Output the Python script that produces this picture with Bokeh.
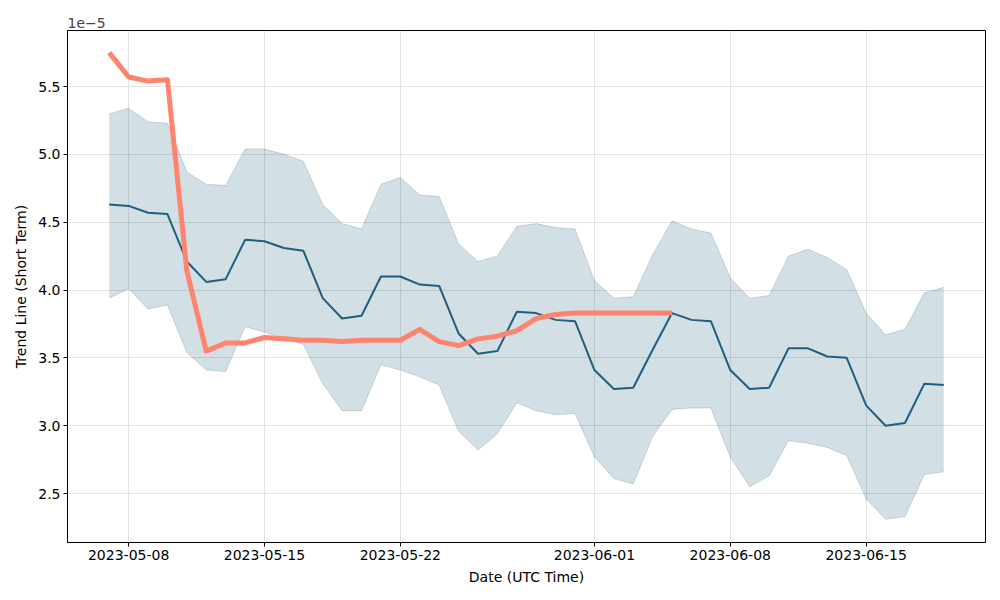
import pandas as pd
from bokeh.plotting import figure
from bokeh.models import FixedTicker, DatetimeTickFormatter, Range1d, NumeralTickFormatter
from bokeh.embed import file_html
from bokeh.resources import INLINE

# values are in units of 1e-5
START_DATE = "2023-05-07"
MEAN = [4.63, 4.62, 4.57, 4.56, 4.21, 4.06, 4.08, 4.37, 4.36, 4.31, 4.29,
        3.94, 3.79, 3.81, 4.10, 4.10, 4.04, 4.03, 3.68, 3.53, 3.55, 3.84,
        3.83, 3.78, 3.77, 3.41, 3.27, 3.28, 3.56, 3.83, 3.78, 3.77, 3.41,
        3.27, 3.28, 3.57, 3.57, 3.51, 3.50, 3.15, 3.00, 3.02, 3.31, 3.30]
UPPER = [5.30, 5.34, 5.24, 5.23, 4.87, 4.78, 4.77, 5.04, 5.04, 5.00, 4.95,
         4.63, 4.49, 4.45, 4.78, 4.83, 4.70, 4.69, 4.34, 4.21, 4.25, 4.47,
         4.49, 4.46, 4.45, 4.07, 3.94, 3.95, 4.26, 4.51, 4.45, 4.42, 4.09,
         3.94, 3.96, 4.25, 4.30, 4.24, 4.15, 3.83, 3.67, 3.71, 3.98, 4.02]
LOWER = [3.94, 4.01, 3.86, 3.89, 3.54, 3.41, 3.40, 3.73, 3.69, 3.64, 3.60,
         3.31, 3.11, 3.11, 3.45, 3.41, 3.36, 3.30, 2.96, 2.82, 2.94, 3.17,
         3.11, 3.08, 3.09, 2.77, 2.61, 2.57, 2.92, 3.12, 3.13, 3.13, 2.77,
         2.55, 2.63, 2.89, 2.87, 2.84, 2.78, 2.46, 2.31, 2.33, 2.64, 2.66]
ACTUAL = [5.75, 5.57, 5.54, 5.55, 4.14, 3.55, 3.61, 3.61, 3.65, 3.64, 3.63,
          3.63, 3.62, 3.63, 3.63, 3.63, 3.71, 3.62, 3.59, 3.64, 3.66, 3.70,
          3.79, 3.82, 3.83, 3.83, 3.83, 3.83, 3.83, 3.83]
X_TICKS = ["2023-05-08", "2023-05-15", "2023-05-22", "2023-06-01",
           "2023-06-08", "2023-06-15"]
Y_TICKS = [2.5, 3.0, 3.5, 4.0, 4.5, 5.0, 5.5]

dates = pd.date_range(START_DATE, periods=len(MEAN), freq="D")
act_dates = dates[:len(ACTUAL)]

BLUE = "#1f5e7e"
SALMON = "#ff836d"
FONT = "DejaVu Sans"

span = dates[-1] - dates[0]
x0 = dates[0] - span * 0.05
x1 = dates[-1] + span * 0.05

p = figure(width=992, height=592, x_axis_type="datetime",
           output_backend="svg", toolbar_location=None,
           x_range=Range1d(x0, x1), y_range=Range1d(2.139, 5.913),
           min_border_left=67, min_border_right=7, min_border_top=30,
           min_border_bottom=50)

p.title.text = "1e\u22125"
p.title.text_font = FONT
p.title.text_font_size = "14px"
p.title.text_font_style = "normal"
p.title.align = "left"
p.title.standoff = 5
p.title.offset = 0

p.varea(x=dates, y1=LOWER, y2=UPPER, fill_color=BLUE, fill_alpha=0.2)
p.line(dates, UPPER, line_color=BLUE, line_alpha=0.2, line_width=1)
p.line(dates, LOWER, line_color=BLUE, line_alpha=0.2, line_width=1)
p.line(dates, MEAN, line_color=BLUE, line_width=2)
p.line(act_dates, ACTUAL, line_color=SALMON, line_width=5,
       line_join="round")

p.xaxis.ticker = FixedTicker(ticks=[pd.Timestamp(t).value / 1e6 for t in X_TICKS])
p.xaxis.formatter = DatetimeTickFormatter(days="%Y-%m-%d", months="%Y-%m-%d")
p.yaxis.ticker = FixedTicker(ticks=Y_TICKS)
p.yaxis.formatter = NumeralTickFormatter(format="0.0")

p.xaxis.axis_label = "Date (UTC Time)"
p.yaxis.axis_label = "Trend Line (Short Term)"

for ax in (p.xaxis[0], p.yaxis[0]):
    ax.axis_label_text_font = FONT
    ax.axis_label_text_font_size = "14px"
    ax.axis_label_text_font_style = "normal"
    ax.major_label_text_font = FONT
    ax.major_label_text_font_size = "14px"
    ax.major_label_text_color = "black"
    ax.axis_label_text_color = "black"
    ax.minor_tick_line_color = None
    ax.major_tick_in = 0
    ax.major_tick_out = 4
    ax.major_tick_line_color = "black"
    ax.axis_line_color = "black"
    ax.major_label_standoff = 3
    ax.axis_label_standoff = 6

p.grid.grid_line_color = "#b0b0b0"
p.grid.grid_line_alpha = 0.35
p.grid.grid_line_width = 1
p.outline_line_color = "black"
p.outline_line_width = 1
p.outline_line_alpha = 1
p.background_fill_color = "white"
p.border_fill_color = "white"

open("out.html", "w").write(file_html(p, INLINE))
